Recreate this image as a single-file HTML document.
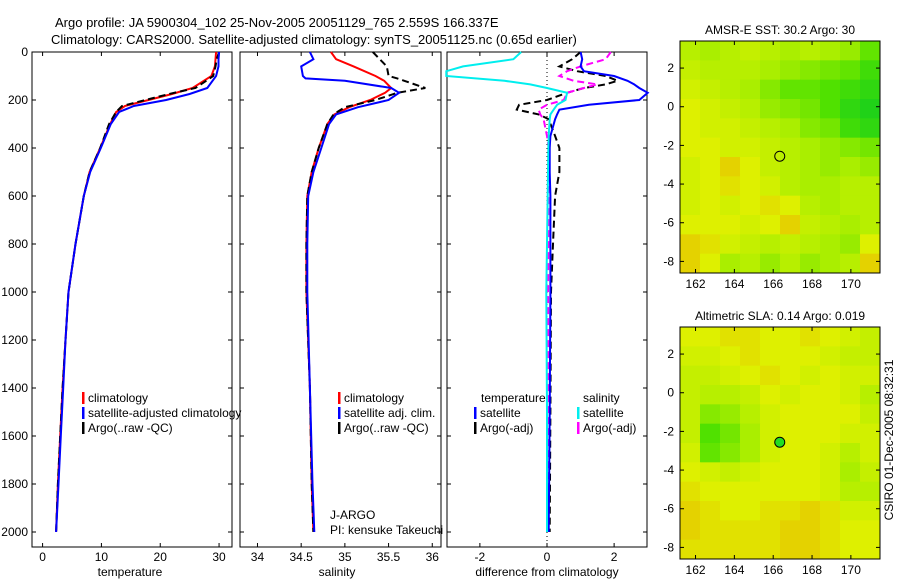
<!DOCTYPE html>
<html><head><meta charset="utf-8"><style>
body{margin:0;background:#fff;}
svg{display:block;font-family:"Liberation Sans",sans-serif;}
</style></head><body>
<svg id="c" width="900" height="580" xmlns="http://www.w3.org/2000/svg">
<text x="55" y="27" font-size="13">Argo profile: JA 5900304_102 25-Nov-2005 20051129_765 2.559S 166.337E</text>
<text x="51" y="44" font-size="13">Climatology: CARS2000. Satellite-adjusted climatology: synTS_20051125.nc (0.65d earlier)</text>
<g id="g"></g>
<text transform="translate(893,440) rotate(-90)" text-anchor="middle" font-size="12">CSIRO 01-Dec-2005 08:32:31</text>
</svg>
<script>
const depths=[0,30,60,100,150,175,200,225,250,300,400,500,600,800,1000,1200,1400,1600,1800,2000];
const tempClim=[29.5,29.4,29.3,28.7,25.5,22,18,14,12.5,11.5,9.8,8,7,5.6,4.4,3.9,3.4,3,2.6,2.3];
const tempSat=[30,29.9,29.9,29.5,28,25,21,15.5,13,11.6,9.9,8.1,7,5.6,4.4,3.9,3.5,3.1,2.7,2.3];
const tempArgo=[30,29.6,29.4,29,26,21.5,17.5,13.5,12.5,11.3,9.8,8,7,5.6,4.4,3.9,3.4,3,2.6,2.3];
const salDepths=[0,30,60,100,110,120,150,170,200,230,260,300,400,500,600,800,1000,1400,1800,2000];
const salClim=[34.84,34.9,35.1,35.35,35.4,35.45,35.53,35.46,35.29,35.05,34.88,34.8,34.7,34.62,34.57,34.56,34.56,34.6,34.62,34.64];
const salSat=[34.6,34.64,34.5,34.52,34.55,35.0,35.53,35.62,35.5,35.15,34.9,34.82,34.73,34.64,34.58,34.57,34.57,34.6,34.63,34.65];
const salArgo=[35.32,35.4,35.48,35.5,35.6,35.68,35.92,35.6,35.35,35.0,34.87,34.8,34.7,34.62,34.57,34.56,34.56,34.6,34.62,34.64];
const difDepths=[0,30,60,80,100,120,135,150,170,200,220,240,260,280,350,400,500,600,800,1000,1500,2000];
const dTempSat=[1.0,1.05,1.0,1.1,2.0,2.4,2.6,2.75,3.0,2.75,1.25,0.37,0.3,0.24,0.1,0.08,0.08,0.1,0.1,0.1,0.08,0.05];
const dTempArgo=[1.0,0.75,0.37,0.9,1.75,2.1,1.75,1.1,0.6,0,-0.83,-0.9,-0.25,0.05,0.24,0.37,0.37,0.24,0.18,0.12,0.1,0.08];
const dSalSat=[-0.77,-1.0,-2.5,-3,-3,-1.27,-0.5,0,0.6,0.55,0.3,0.2,0.1,0.08,0.05,0.04,0.03,0.02,0.0,-0.02,0.0,0.0];
const dSalArgo=[1.9,1.75,1.0,0.6,0.37,0.8,1.5,1.1,0.6,0.5,0.0,-0.25,-0.2,-0.1,0.0,0.05,0.05,0.04,0.04,0.03,0.04,0.04];
const depthTicks=[0,200,400,600,800,1000,1200,1400,1600,1800,2000];
const tempTicks=[0,10,20,30];
const salTicks=["34","34.5","35","35.5","36"];
const difTicks=["-2","0","2"];
const lonTicks=[162,164,166,168,170];
const latTicks=[2,0,-2,-4,-6,-8];
const sstGrid=[
[.45,.5,.45,.4,.45,.5,.45,.5,.55,.7],
[.4,.45,.45,.45,.5,.55,.6,.65,.7,.8],
[.35,.4,.45,.5,.6,.7,.7,.75,.8,.85],
[.3,.35,.4,.45,.55,.6,.65,.75,.85,.9],
[.3,.35,.35,.4,.45,.5,.6,.65,.8,.85],
[.3,.3,.35,.35,.4,.45,.5,.55,.6,.65],
[.35,.3,.2,.3,.4,.45,.5,.55,.5,.55],
[.35,.3,.25,.3,.35,.45,.5,.5,.45,.45],
[.35,.3,.35,.3,.25,.3,.45,.5,.45,.45],
[.3,.3,.3,.35,.3,.2,.4,.45,.5,.45],
[.2,.25,.35,.4,.45,.4,.45,.5,.55,.3],
[.2,.3,.5,.45,.55,.45,.55,.5,.45,.2]];
const slaGrid=[
[.3,.3,.25,.25,.3,.3,.25,.3,.35,.4],
[.35,.35,.3,.25,.3,.3,.3,.35,.4,.4],
[.4,.4,.35,.3,.25,.3,.35,.3,.35,.35],
[.4,.45,.45,.4,.3,.35,.3,.3,.35,.45],
[.4,.6,.55,.45,.35,.3,.3,.3,.3,.4],
[.4,.75,.65,.5,.35,.3,.3,.3,.35,.35],
[.35,.7,.6,.5,.35,.3,.3,.35,.45,.35],
[.3,.35,.4,.35,.3,.3,.3,.35,.5,.4],
[.25,.3,.3,.3,.3,.3,.3,.35,.45,.45],
[.2,.25,.3,.3,.25,.25,.2,.25,.35,.35],
[.2,.25,.25,.25,.25,.2,.2,.25,.3,.3],
[.25,.25,.25,.25,.25,.2,.2,.25,.3,.3]];

const NS="http://www.w3.org/2000/svg",G=document.getElementById('g');
function mk(t,a,p){const e=document.createElementNS(NS,t);for(const k in a)e.setAttribute(k,a[k]);(p||G).appendChild(e);return e;}
const Y=d=>52+0.24*d;
const panels=[
 {x0:32,x1:232,v0:-1.8,v1:32.2,name:'temperature'},
 {x0:240,x1:441,v0:33.8,v1:36.1,name:'salinity'},
 {x0:447,x1:647,v0:-2.98,v1:2.98,name:'difference'}];
function X(p,v){return p.x0+(v-p.v0)/(p.v1-p.v0)*(p.x1-p.x0);}
function line(p,ds,vs,col,dash,nm,w){
 let d='';ds.forEach((z,i)=>{d+=(i?'L':'M')+X(p,vs[i]).toFixed(1)+','+Y(z).toFixed(1);});
 const e=mk('path',{d:d,fill:'none',stroke:col,'stroke-width':w||2});
 if(dash)e.setAttribute('stroke-dasharray','7,4');
 
 
}
panels.forEach((p,pi)=>{
 const r=mk('rect',{x:p.x0,y:52,width:p.x1-p.x0,height:495,fill:'#fff',stroke:'#000','stroke-width':1});
 
 
 depthTicks.forEach(d=>{
  mk('line',{x1:p.x0,x2:p.x0+4,y1:Y(d),y2:Y(d),stroke:'#000'});
  mk('line',{x1:p.x1,x2:p.x1-4,y1:Y(d),y2:Y(d),stroke:'#000'});
  if(pi==0){const t=mk('text',{x:28,y:Y(d)+4,'text-anchor':'end','font-size':12});t.textContent=d;
   
   }
 });
 const ticks=pi==0?tempTicks:pi==1?salTicks:difTicks;
 ticks.forEach(v=>{const x=X(p,+v);
  mk('line',{x1:x,x2:x,y1:547,y2:543,stroke:'#000'});mk('line',{x1:x,x2:x,y1:52,y2:56,stroke:'#000'});
  const t=mk('text',{x:x,y:561,'text-anchor':'middle','font-size':12});t.textContent=v;
  
  });
});
const P1=panels[0],P2=panels[1],P3=panels[2];
mk('line',{x1:X(P3,0),x2:X(P3,0),y1:52,y2:547,stroke:'#000','stroke-dasharray':'1,3','stroke-width':1});
line(P1,depths,tempClim,'#f00',false,'temp-climatology-line');
line(P1,depths,tempArgo,'#000',true,'temp-argo-line');
line(P1,depths,tempSat,'#00f',false,'temp-satellite-line');
line(P2,salDepths,salClim,'#f00',false,'sal-climatology-line');
line(P2,salDepths,salArgo,'#000',true,'sal-argo-line');
line(P2,salDepths,salSat,'#00f',false,'sal-satellite-line');
line(P3,difDepths,dTempArgo,'#000',true,'diff-temp-argo-line');
line(P3,difDepths,dSalArgo,'#f0f',true,'diff-sal-argo-line');
line(P3,difDepths,dTempSat,'#00f',false,'diff-temp-satellite-line');
line(P3,difDepths,dSalSat,'#0ee',false,'diff-sal-satellite-line');
function txt(x,y,s,nm,anchor){const t=mk('text',{x:x,y:y,'font-size':12,'text-anchor':anchor||'start'});t.textContent=s;
 
 return t;}
function leg(x,y,col,s,nm){mk('rect',{x:x,y:y-10,width:2.5,height:12,fill:col});txt(x+6,y,s,nm);}
leg(82,402,'#f00','climatology','legend-climatology');
leg(82,417,'#00f','satellite-adjusted climatology','legend-satellite');
leg(82,432,'#000','Argo(..raw -QC)','legend-argo');
leg(338,402,'#f00','climatology','legend2-climatology');
leg(338,417,'#00f','satellite adj. clim.','legend2-satellite');
leg(338,432,'#000','Argo(..raw -QC)','legend2-argo');
txt(481,402,'temperature','legend3-temp-header');
txt(583,402,'salinity','legend3-sal-header');
leg(474,417,'#00f','satellite','legend3-temp-satellite');
leg(474,432,'#000','Argo(-adj)','legend3-temp-argo');
leg(577,417,'#0ee','satellite','legend3-sal-satellite');
leg(577,432,'#f0f','Argo(-adj)','legend3-sal-argo');
txt(330,519,'J-ARGO','jargo-label');
txt(330,534,'PI: kensuke Takeuchi','pi-label');
txt(130,576,'temperature','x-axis-title-temperature','middle');
txt(337,576,'salinity','x-axis-title-salinity','middle');
txt(547,576,'difference from climatology','x-axis-title-difference','middle');

function col(v){
 const stops=[[0,[240,150,0]],[.3,[222,240,0]],[.5,[170,238,0]],[.75,[80,225,0]],[1,[0,200,40]]];
 for(let i=1;i<stops.length;i++){if(v<=stops[i][0]){const a=stops[i-1],b=stops[i],f=(v-a[0])/(b[0]-a[0]);
  return 'rgb('+a[1].map((c,k)=>Math.round(c+(b[1][k]-c)*f)).join(',')+')';}}
 return 'rgb(0,200,40)';}
function map(y0,grid,title,nm,filled){
 const x0=680,x1=880,y1=y0+232;
 const LX=l=>x0+(l-161.2)/(171.5-161.2)*(x1-x0);
 const LY=a=>y0+(3.4-a)/12*(y1-y0);
 const nr=grid.length,nc=grid[0].length,cw=(x1-x0)/nc,ch=(y1-y0)/nr;
 grid.forEach((row,i)=>row.forEach((v,j)=>{const r=mk('rect',{x:x0+j*cw,y:y0+i*ch,width:cw+0.5,height:ch+0.5,fill:col(v)});
  
  }));
 const b=mk('rect',{x:x0,y:y0,width:x1-x0,height:y1-y0,fill:'none',stroke:'#000'});
 
 
 lonTicks.forEach(l=>{const x=LX(l);mk('line',{x1:x,x2:x,y1:y1,y2:y1-4,stroke:'#000'});mk('line',{x1:x,x2:x,y1:y0,y2:y0+4,stroke:'#000'});
  txt(x,y1+15,l,nm+'-lon-label','middle');});
 latTicks.forEach(a=>{const y=LY(a);mk('line',{x1:x0,x2:x0+4,y1:y,y2:y,stroke:'#000'});mk('line',{x1:x1,x2:x1-4,y1:y,y2:y,stroke:'#000'});
  txt(x0-6,y+4,a,nm+'-lat-label','end');});
 const c=mk('circle',{cx:LX(166.337),cy:LY(-2.559),r:5,fill:filled?'#22dd22':'none',stroke:'#000'});
 
 
 txt((x0+x1)/2,y0-7,title,nm+'-title','middle');
}
map(41,sstGrid,'AMSR-E SST: 30.2 Argo: 30','sst-map',false);
map(327,slaGrid,'Altimetric SLA: 0.14 Argo: 0.019','sla-map',true);
</script>
</body></html>
